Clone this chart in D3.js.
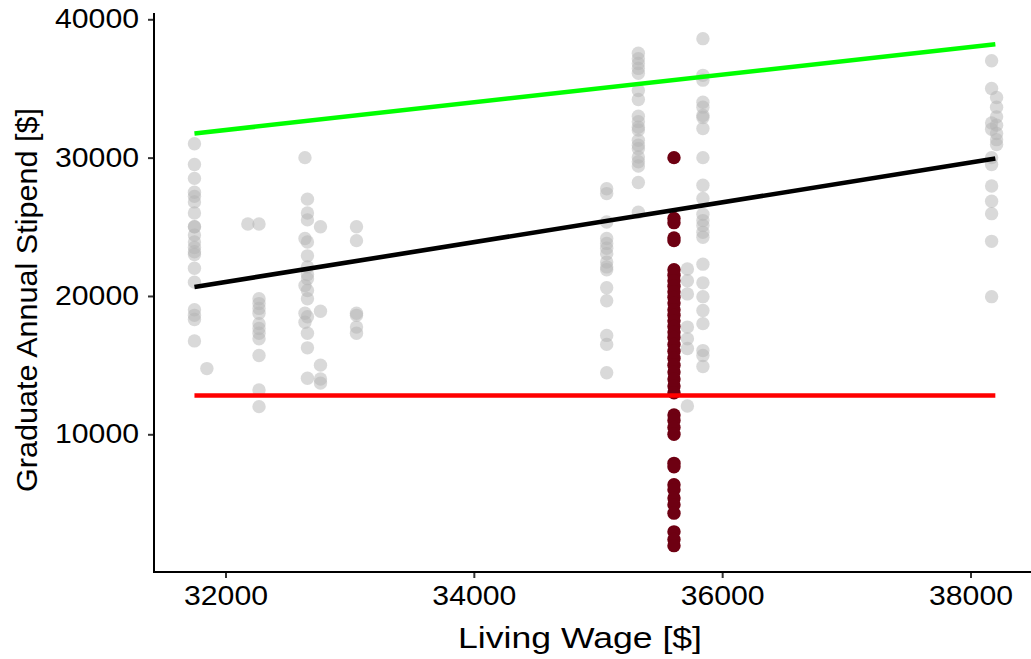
<!DOCTYPE html>
<html>
<head>
<meta charset="utf-8">
<script src="https://cdn.jsdelivr.net/npm/d3@7"></script>
<style>
  html, body { margin: 0; padding: 0; background: #fff; }
  svg { display: block; }
  text { font-family: "Liberation Sans", Arial, sans-serif; fill: #000; }
</style>
</head>
<body>
<svg id="chart" width="1031" height="659"></svg>
<script>
// ---- data ----
const xTicks = [32000, 34000, 36000, 38000];
const yTicks = [10000, 20000, 30000, 40000];

// other institutions: living wage for each column and stipends in that column
const otherWages = [31750, 31850, 32180, 32270, 32640, 32660, 32765, 33055, 35070, 35325, 35720, 35845, 38170, 38210];
const otherStipends = [
  [31000, 29500, 28500, 27500, 27200, 26800, 26000, 25000, 25000, 24400, 23900, 23500, 23200, 23000, 22000, 21000, 19000, 18600, 18300, 16750],
  [14750],
  [25200],
  [25200, 19800, 19450, 19100, 18750, 18000, 17650, 17300, 16900, 15700, 13200, 12000],
  [30000, 24150, 20750, 18750, 18100],
  [27000, 26000, 25500, 23900, 22900, 22100, 21550, 21250, 20400, 19800, 18500, 17300, 16250, 14050],
  [25000, 18900, 15000, 14000, 13700],
  [25000, 24000, 18750, 18600, 17750, 17300],
  [27750, 27400, 25350, 24150, 23800, 23450, 23050, 22450, 22100, 21900, 20600, 19650, 17150, 16500, 14450],
  [37550, 37150, 36800, 36450, 36100, 34850, 34200, 33000, 32600, 32200, 32000, 31250, 30900, 30650, 30050, 29700, 29400, 28200, 26050],
  [21950, 21100, 20150, 17750, 16900, 16200, 12050],
  [38600, 35950, 35600, 34000, 33650, 33050, 32900, 32100, 30000, 28000, 27050, 25900, 25450, 25100, 24600, 24250, 22300, 20950, 19950, 18950, 18000, 16050, 15700, 14900],
  [37000, 35000, 32500, 32050, 30000, 29500, 27950, 26850, 25950, 23950, 19950],
  [34350, 33650, 32950, 32350, 31750, 31300, 30950]
];

// highlighted institution
const focusWage = 35612;
const focusStipends = [30000, 25600, 25300, 24200, 24000, 21900, 21500, 21100, 20700, 20300, 19900, 19500, 19000, 18600, 18200, 17800, 17400, 17000, 16500, 16000, 15500, 15000, 14500, 14000, 13500, 13000, 11400, 11000, 10500, 10000, 7900, 7650, 6350, 6000, 5400, 4900, 4300, 2950, 2400, 1950];

// reference lines: [wage, stipend] end points
const parityLine = [[31750, 31750], [38200, 38200]];
const fitLine = [[31750, 20650], [38200, 29930]];
const povertyLine = [[31750, 12800], [38200, 12800]];

// ---- layout ----
const svg = d3.select("#chart");
const x = d3.scaleLinear().domain([32000, 38000]).range([225.5, 970.5]);
const y = d3.scaleLinear().domain([10000, 40000]).range([434.3, 19.3]);
const panelLeft = 154, panelRight = 1031, panelTop = 13, panelBottom = 572;

// points
const grayPts = [];
otherWages.forEach((w, i) => otherStipends[i].forEach(s => grayPts.push([w, s])));

svg.append("g").selectAll("circle").data(grayPts).join("circle")
  .attr("cx", d => x(d[0])).attr("cy", d => y(d[1])).attr("r", 6.7)
  .attr("fill", "#b3b3b3").attr("fill-opacity", 0.5);

svg.append("g").selectAll("circle").data(focusStipends).join("circle")
  .attr("cx", x(focusWage)).attr("cy", d => y(d)).attr("r", 6.7)
  .attr("fill", "#6e0012");

// lines
const line = d3.line().x(d => x(d[0])).y(d => y(d[1]));
svg.append("path").attr("d", line(parityLine)).attr("stroke", "#00ff00").attr("stroke-width", 4.6).attr("fill", "none");
svg.append("path").attr("d", line(fitLine)).attr("stroke", "#000").attr("stroke-width", 4.6).attr("fill", "none");
svg.append("path").attr("d", line(povertyLine)).attr("stroke", "#ff0000").attr("stroke-width", 4.6).attr("fill", "none");

// axes
const fmt = d3.format("d");
const gx = svg.append("g").attr("transform", `translate(0,${panelBottom})`)
  .call(d3.axisBottom(x).tickValues(xTicks).tickFormat(fmt).tickSize(6).tickPadding(8));
const gy = svg.append("g").attr("transform", `translate(${panelLeft},0)`)
  .call(d3.axisLeft(y).tickValues(yTicks).tickFormat(fmt).tickSize(6).tickPadding(9));
[gx, gy].forEach(g => {
  g.select(".domain").remove();
  g.selectAll(".tick line").attr("stroke", "#333").attr("stroke-width", 2);
  g.selectAll(".tick text").attr("font-size", 27).attr("fill", "#000")
    .attr("textLength", 84).attr("lengthAdjust", "spacingAndGlyphs")
    .style("font-family", '"Liberation Sans", Arial, sans-serif');
});

svg.append("line").attr("x1", panelLeft).attr("x2", panelLeft).attr("y1", panelTop).attr("y2", panelBottom + 1)
  .attr("stroke", "#000").attr("stroke-width", 2);
svg.append("line").attr("x1", panelLeft - 1).attr("x2", panelRight).attr("y1", panelBottom).attr("y2", panelBottom)
  .attr("stroke", "#000").attr("stroke-width", 2);

// titles
svg.append("text").attr("x", 580).attr("y", 648).attr("text-anchor", "middle")
  .attr("font-size", 29).attr("textLength", 244).attr("lengthAdjust", "spacingAndGlyphs")
  .text("Living Wage [$]");
svg.append("text").attr("transform", "translate(37,300) rotate(-90)").attr("text-anchor", "middle")
  .attr("font-size", 29).attr("textLength", 384).attr("lengthAdjust", "spacingAndGlyphs")
  .text("Graduate Annual Stipend [$]");
</script>
</body>
</html>
